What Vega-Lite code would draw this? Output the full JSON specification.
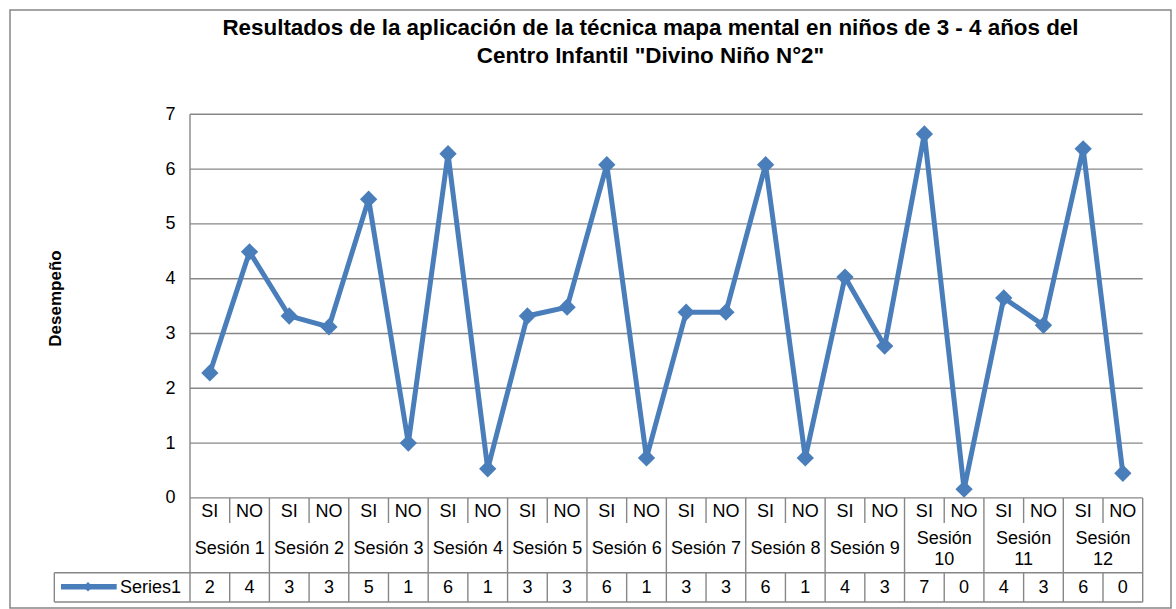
{
  "$schema": "https://vega.github.io/schema/vega-lite/v6.json",
  "width": 1161,
  "height": 598,
  "autosize": {"type": "none"},
  "padding": {"left": 10, "top": 10, "right": 5, "bottom": 1},
  "background": "white",
  "config": {
    "view": {"stroke": "#868686", "strokeWidth": 1.5},
    "font": "Liberation Sans"
  },
  "datasets": {
    "main": [
      {"idx": 1, "session": "Sesión 1", "cond": "SI", "value": 2.28, "shown": 2},
      {"idx": 2, "session": "Sesión 1", "cond": "NO", "value": 4.49, "shown": 4},
      {"idx": 3, "session": "Sesión 2", "cond": "SI", "value": 3.32, "shown": 3},
      {"idx": 4, "session": "Sesión 2", "cond": "NO", "value": 3.12, "shown": 3},
      {"idx": 5, "session": "Sesión 3", "cond": "SI", "value": 5.45, "shown": 5},
      {"idx": 6, "session": "Sesión 3", "cond": "NO", "value": 1.0, "shown": 1},
      {"idx": 7, "session": "Sesión 4", "cond": "SI", "value": 6.28, "shown": 6},
      {"idx": 8, "session": "Sesión 4", "cond": "NO", "value": 0.53, "shown": 1},
      {"idx": 9, "session": "Sesión 5", "cond": "SI", "value": 3.32, "shown": 3},
      {"idx": 10, "session": "Sesión 5", "cond": "NO", "value": 3.48, "shown": 3},
      {"idx": 11, "session": "Sesión 6", "cond": "SI", "value": 6.08, "shown": 6},
      {"idx": 12, "session": "Sesión 6", "cond": "NO", "value": 0.73, "shown": 1},
      {"idx": 13, "session": "Sesión 7", "cond": "SI", "value": 3.39, "shown": 3},
      {"idx": 14, "session": "Sesión 7", "cond": "NO", "value": 3.39, "shown": 3},
      {"idx": 15, "session": "Sesión 8", "cond": "SI", "value": 6.08, "shown": 6},
      {"idx": 16, "session": "Sesión 8", "cond": "NO", "value": 0.73, "shown": 1},
      {"idx": 17, "session": "Sesión 9", "cond": "SI", "value": 4.03, "shown": 4},
      {"idx": 18, "session": "Sesión 9", "cond": "NO", "value": 2.77, "shown": 3},
      {"idx": 19, "session": "Sesión\n10", "cond": "SI", "value": 6.64, "shown": 7},
      {"idx": 20, "session": "Sesión\n10", "cond": "NO", "value": 0.16, "shown": 0},
      {"idx": 21, "session": "Sesión\n11", "cond": "SI", "value": 3.65, "shown": 4},
      {"idx": 22, "session": "Sesión\n11", "cond": "NO", "value": 3.15, "shown": 3},
      {"idx": 23, "session": "Sesión\n12", "cond": "SI", "value": 6.37, "shown": 6},
      {"idx": 24, "session": "Sesión\n12", "cond": "NO", "value": 0.45, "shown": 0}
    ],
    "lines": [
      {"x": 0.5, "x2": 24.5, "y": 0, "y2": 0},
      {"x": 0.5, "x2": 24.5, "y": 1, "y2": 1},
      {"x": 0.5, "x2": 24.5, "y": 2, "y2": 2},
      {"x": 0.5, "x2": 24.5, "y": 3, "y2": 3},
      {"x": 0.5, "x2": 24.5, "y": 4, "y2": 4},
      {"x": 0.5, "x2": 24.5, "y": 5, "y2": 5},
      {"x": 0.5, "x2": 24.5, "y": 6, "y2": 6},
      {"x": 0.5, "x2": 24.5, "y": 7, "y2": 7},
      {"x": 0.5, "x2": 0.5, "y": 7, "y2": -1.9},
      {"x": -2.918, "x2": 24.5, "y": -1.365, "y2": -1.365},
      {"x": -2.918, "x2": 24.5, "y": -1.9, "y2": -1.9},
      {"x": -2.918, "x2": -2.918, "y": -1.365, "y2": -1.9},
      {"x": 2.5, "x2": 2.5, "y": 0, "y2": -1.9},
      {"x": 4.5, "x2": 4.5, "y": 0, "y2": -1.9},
      {"x": 6.5, "x2": 6.5, "y": 0, "y2": -1.9},
      {"x": 8.5, "x2": 8.5, "y": 0, "y2": -1.9},
      {"x": 10.5, "x2": 10.5, "y": 0, "y2": -1.9},
      {"x": 12.5, "x2": 12.5, "y": 0, "y2": -1.9},
      {"x": 14.5, "x2": 14.5, "y": 0, "y2": -1.9},
      {"x": 16.5, "x2": 16.5, "y": 0, "y2": -1.9},
      {"x": 18.5, "x2": 18.5, "y": 0, "y2": -1.9},
      {"x": 20.5, "x2": 20.5, "y": 0, "y2": -1.9},
      {"x": 22.5, "x2": 22.5, "y": 0, "y2": -1.9},
      {"x": 24.5, "x2": 24.5, "y": 0, "y2": -1.9},
      {"x": 1.5, "x2": 1.5, "y": 0, "y2": -0.458},
      {"x": 3.5, "x2": 3.5, "y": 0, "y2": -0.458},
      {"x": 5.5, "x2": 5.5, "y": 0, "y2": -0.458},
      {"x": 7.5, "x2": 7.5, "y": 0, "y2": -0.458},
      {"x": 9.5, "x2": 9.5, "y": 0, "y2": -0.458},
      {"x": 11.5, "x2": 11.5, "y": 0, "y2": -0.458},
      {"x": 13.5, "x2": 13.5, "y": 0, "y2": -0.458},
      {"x": 15.5, "x2": 15.5, "y": 0, "y2": -0.458},
      {"x": 17.5, "x2": 17.5, "y": 0, "y2": -0.458},
      {"x": 19.5, "x2": 19.5, "y": 0, "y2": -0.458},
      {"x": 21.5, "x2": 21.5, "y": 0, "y2": -0.458},
      {"x": 23.5, "x2": 23.5, "y": 0, "y2": -0.458},
      {"x": 1.5, "x2": 1.5, "y": -1.365, "y2": -1.9},
      {"x": 3.5, "x2": 3.5, "y": -1.365, "y2": -1.9},
      {"x": 5.5, "x2": 5.5, "y": -1.365, "y2": -1.9},
      {"x": 7.5, "x2": 7.5, "y": -1.365, "y2": -1.9},
      {"x": 9.5, "x2": 9.5, "y": -1.365, "y2": -1.9},
      {"x": 11.5, "x2": 11.5, "y": -1.365, "y2": -1.9},
      {"x": 13.5, "x2": 13.5, "y": -1.365, "y2": -1.9},
      {"x": 15.5, "x2": 15.5, "y": -1.365, "y2": -1.9},
      {"x": 17.5, "x2": 17.5, "y": -1.365, "y2": -1.9},
      {"x": 19.5, "x2": 19.5, "y": -1.365, "y2": -1.9},
      {"x": 21.5, "x2": 21.5, "y": -1.365, "y2": -1.9},
      {"x": 23.5, "x2": 23.5, "y": -1.365, "y2": -1.9}
    ]
  },
  "layer": [
    {
      "data": {"name": "lines"},
      "mark": {"type": "rule", "color": "#878787", "strokeWidth": 1.4},
      "encoding": {
        "x": {"field": "x", "type": "quantitative", "scale": {"domain": [-4.0345, 25.2129], "nice": false, "zero": false, "padding": 0}, "axis": null},
        "x2": {"field": "x2"},
        "y": {
          "field": "y", "type": "quantitative",
          "scale": {"domain": [-2.0091, 8.9033], "nice": false, "zero": false, "padding": 0},
          "axis": {
            "values": [0, 1, 2, 3, 4, 5, 6, 7],
            "domain": false, "ticks": false, "grid": false,
            "offset": -180,
            "labelFont": "Liberation Sans", "labelFontSize": 18, "labelColor": "black", "labelPadding": 15,
            "title": "Desempeño",
            "titleFont": "Liberation Sans", "titleFontSize": 17, "titleFontWeight": "bold", "titleColor": "black",
            "titleX": -135, "titleY": 288, "titleAngle": -90, "titleAlign": "center", "titleBaseline": "middle"
          }
        },
        "y2": {"field": "y2"}
      }
    },
    {
      "data": {"name": "main"},
      "mark": {"type": "line", "color": "#4a7ebb", "strokeWidth": 5},
      "encoding": {
        "x": {"field": "idx", "type": "quantitative", "axis": null},
        "y": {"field": "value", "type": "quantitative"}
      }
    },
    {
      "data": {"name": "main"},
      "mark": {"type": "point", "shape": "diamond", "filled": true, "size": 300, "color": "#4a7ebb", "opacity": 1},
      "encoding": {
        "x": {"field": "idx", "type": "quantitative", "axis": null},
        "y": {"field": "value", "type": "quantitative"}
      }
    },
    {
      "data": {"name": "main"},
      "mark": {"type": "text", "fontSize": 18, "color": "black", "align": "center", "baseline": "middle"},
      "encoding": {
        "x": {"field": "idx", "type": "quantitative", "axis": null},
        "y": {"datum": -0.26, "type": "quantitative"},
        "text": {"field": "cond"}
      }
    },
    {
      "data": {"name": "main"},
      "transform": [{"filter": "datum.cond === 'SI' && datum.idx < 19"}],
      "mark": {"type": "text", "fontSize": 18, "color": "black", "align": "center", "baseline": "middle", "dx": 19.85},
      "encoding": {
        "x": {"field": "idx", "type": "quantitative", "axis": null},
        "y": {"datum": -0.93, "type": "quantitative"},
        "text": {"field": "session"}
      }
    },
    {
      "data": {"name": "main"},
      "transform": [{"filter": "datum.cond === 'SI' && datum.idx >= 19"}],
      "mark": {"type": "text", "fontSize": 18, "color": "black", "align": "center", "baseline": "middle", "dx": 19.85, "lineBreak": "\n", "lineHeight": 21.5},
      "encoding": {
        "x": {"field": "idx", "type": "quantitative", "axis": null},
        "y": {"datum": -0.741, "type": "quantitative"},
        "text": {"field": "session"}
      }
    },
    {
      "data": {"name": "main"},
      "mark": {"type": "text", "fontSize": 18, "color": "black", "align": "center", "baseline": "middle"},
      "encoding": {
        "x": {"field": "idx", "type": "quantitative", "axis": null},
        "y": {"datum": -1.653, "type": "quantitative"},
        "text": {"field": "shown"}
      }
    },
    {
      "data": {"values": [{}]},
      "mark": {"type": "rule", "color": "#4a7ebb", "strokeWidth": 5.5},
      "encoding": {
        "x": {"datum": -2.75, "type": "quantitative", "axis": null},
        "x2": {"datum": -1.3465},
        "y": {"datum": -1.62, "type": "quantitative"}
      }
    },
    {
      "data": {"values": [{}]},
      "mark": {"type": "point", "shape": "diamond", "filled": true, "size": 90, "color": "#4a7ebb", "opacity": 1},
      "encoding": {
        "x": {"datum": -2.0695, "type": "quantitative", "axis": null},
        "y": {"datum": -1.62, "type": "quantitative"}
      }
    },
    {
      "data": {"values": [{"name": "Series1"}]},
      "mark": {"type": "text", "fontSize": 18, "color": "black", "align": "left", "baseline": "middle"},
      "encoding": {
        "x": {"datum": -1.263, "type": "quantitative", "axis": null},
        "y": {"datum": -1.653, "type": "quantitative"},
        "text": {"field": "name"}
      }
    },
    {
      "data": {"values": [{}]},
      "mark": {
        "type": "text",
        "text": ["Resultados de la aplicación de la técnica mapa mental en niños de 3 - 4 años del", "Centro Infantil \"Divino Niño N°2\""],
        "fontSize": 22.4, "fontWeight": "bold", "color": "black", "align": "center", "baseline": "alphabetic", "lineHeight": 28.5
      },
      "encoding": {
        "x": {"datum": 12.1, "type": "quantitative", "axis": null},
        "y": {"datum": 8.452, "type": "quantitative"}
      }
    }
  ]
}
